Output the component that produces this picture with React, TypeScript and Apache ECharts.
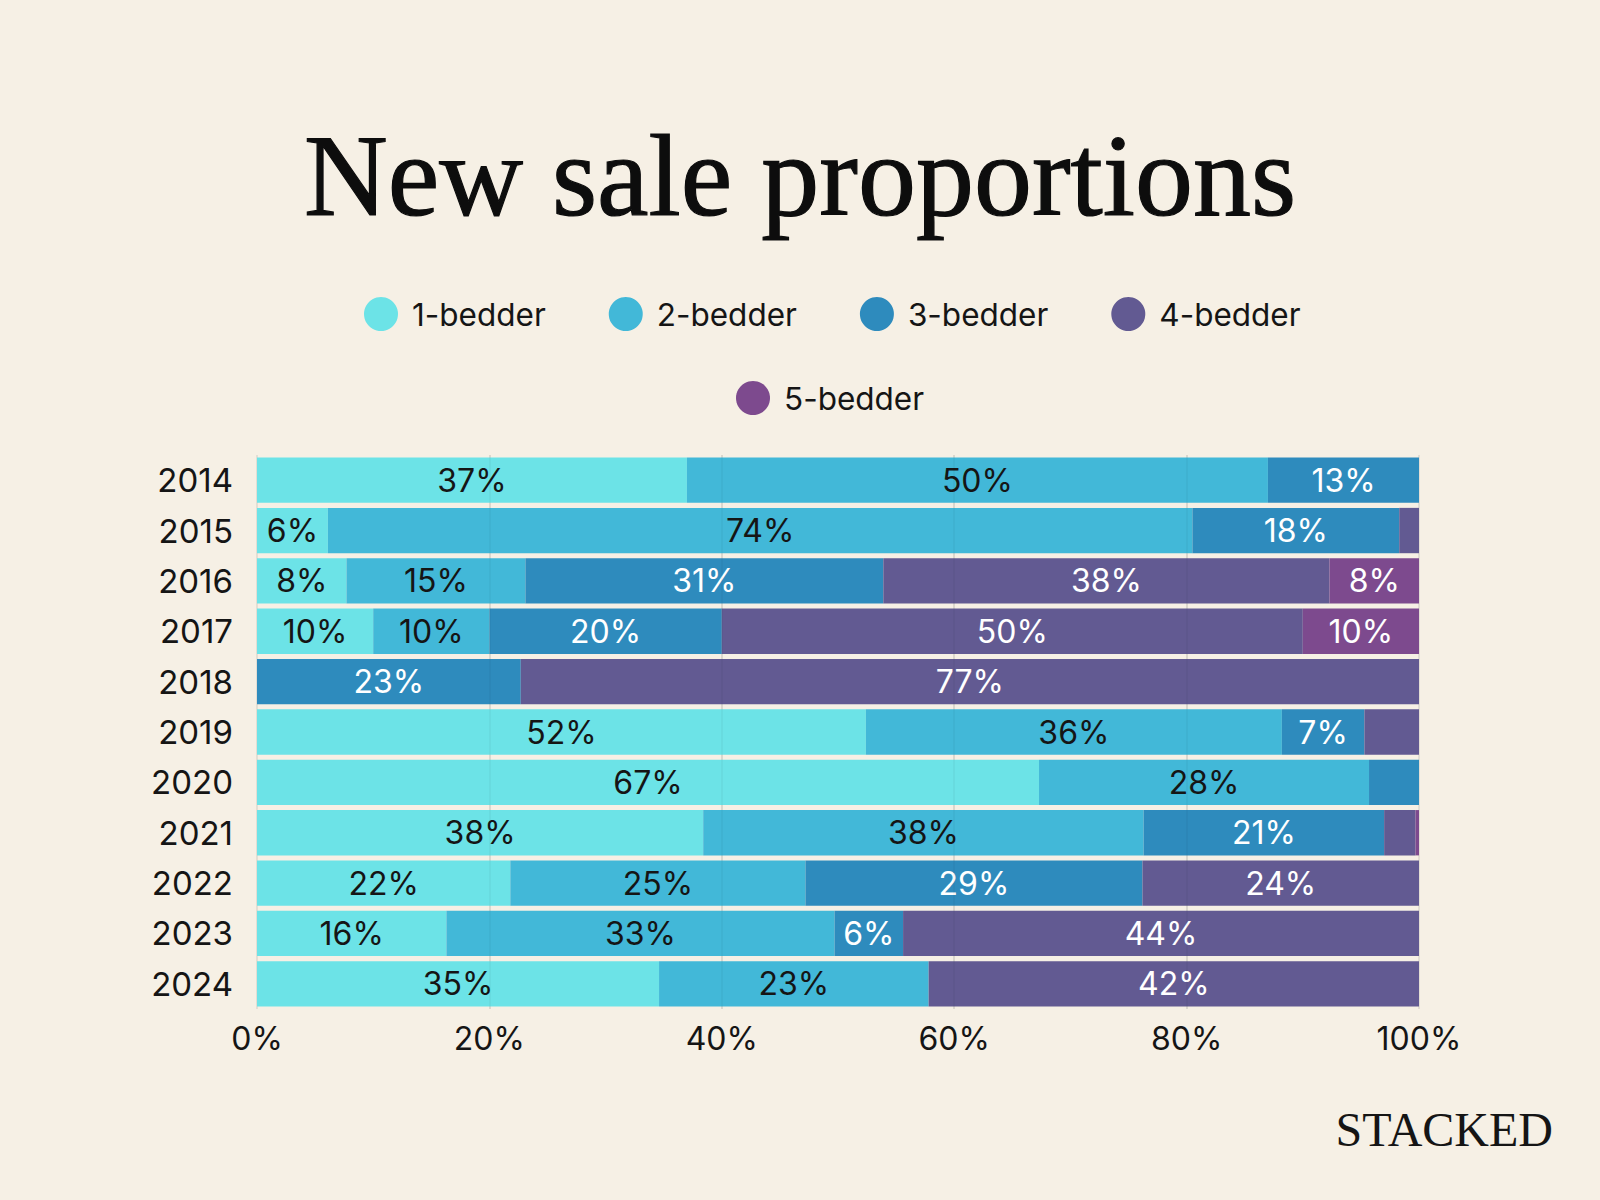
import { useEffect, useRef } from 'react'
import * as echarts from 'echarts'

const years = ['2014', '2015', '2016', '2017', '2018', '2019', '2020', '2021', '2022', '2023', '2024']
const bedderNames = ['1-bedder', '2-bedder', '3-bedder', '4-bedder', '5-bedder']
const oneBed = [37, 6.1, 7.7, 10, 0, 52.4, 67.3, 38.4, 21.8, 16.3, 34.6]
const twoBed = [50, 74.4, 15.4, 10, 0, 35.8, 28.4, 37.9, 25.4, 33.4, 23.2]
const threeBed = [13, 17.8, 30.8, 20, 22.7, 7.1, 4.3, 20.7, 29.0, 5.9, 0]
const fourBed = [0, 1.7, 38.4, 50, 77.3, 4.7, 0, 2.7, 23.8, 44.4, 42.2]
const fiveBed = [0, 0, 7.7, 10, 0, 0, 0, 0.3, 0, 0, 0]
const xTicks = [20, 40, 60, 80]

const colors = ['#6ce3e7', '#42b8d8', '#2e8bbd', '#625a92', '#7d4a8e']
const labelColors = ['#151515', '#151515', '#ffffff', '#ffffff', '#ffffff']
const BG = '#f6f0e5'
const SANS = 'Inter, "Noto Sans", sans-serif'
const SERIF = '"Liberation Serif", "DejaVu Serif", serif'

export default function App() {
  const ref = useRef<HTMLDivElement>(null)

  useEffect(() => {
    if (!ref.current) return
    const chart = echarts.init(ref.current, undefined, { renderer: 'svg' })
    const values = [oneBed, twoBed, threeBed, fourBed, fiveBed]

    const series: any[] = bedderNames.map((name, i) => ({
      name,
      type: 'bar',
      stack: 'total',
      barCategoryGap: '10%',
      data: values[i],
      itemStyle: { color: colors[i] },
      label: {
        show: true,
        position: 'inside',
        color: labelColors[i],
        fontFamily: SANS,
        fontSize: 32,
        formatter: (p: any) => (p.value < 5 ? '' : `${Math.round(p.value)}%`),
      },
    }))
    // faint grid lines showing through the bars
    series[4].markLine = {
      silent: true,
      symbol: 'none',
      label: { show: false },
      lineStyle: { color: 'rgba(0,0,0,0.045)', type: 'solid', width: 1.5 },
      data: xTicks.map((v) => ({ xAxis: v })),
    }

    const legendText = { fontFamily: SANS, fontSize: 31.5, color: '#151515', padding: [0, 0, 0, 9] }

    chart.setOption({
      animation: false,
      backgroundColor: BG,
      grid: { left: 257, right: 181, top: 455, bottom: 191 },
      legend: [
        {
          data: bedderNames.slice(0, 4),
          left: 359,
          top: 292,
          icon: 'circle',
          itemWidth: 34,
          itemHeight: 34,
          itemGap: 63,
          textStyle: legendText,
        },
        {
          data: [bedderNames[4]],
          left: 731,
          top: 376,
          icon: 'circle',
          itemWidth: 34,
          itemHeight: 34,
          textStyle: legendText,
        },
      ],
      xAxis: {
        type: 'value',
        min: 0,
        max: 100,
        interval: 20,
        axisLine: { show: false },
        axisTick: { show: false },
        splitLine: { show: true, lineStyle: { color: 'rgba(0,0,0,0.1)', width: 1.5 } },
        axisLabel: { formatter: '{value}%', fontFamily: SANS, fontSize: 32, color: '#151515', margin: 13 },
      },
      yAxis: {
        type: 'category',
        inverse: true,
        data: years,
        axisLine: { show: false },
        axisTick: { show: false },
        axisLabel: { fontFamily: SANS, fontSize: 33, color: '#151515', margin: 24 },
      },
      graphic: [
        {
          type: 'text',
          x: 800,
          y: 176,
          style: {
            text: 'New sale proportions',
            font: `116px ${SERIF}`,
            fill: '#0d0d0d',
            stroke: '#0d0d0d',
            lineWidth: 1.2,
            textAlign: 'center',
            textVerticalAlign: 'middle',
          },
        },
        {
          type: 'text',
          x: 1553,
          y: 1129,
          style: {
            text: 'STACKED',
            font: `48px ${SERIF}`,
            fill: '#151515',
            textAlign: 'right',
            textVerticalAlign: 'middle',
          },
        },
      ],
      series,
    })

    return () => chart.dispose()
  }, [])

  return (
    <div
      ref={ref}
      style={{ position: 'fixed', left: 0, top: 0, width: 1600, height: 1200, background: BG }}
    />
  )
}
